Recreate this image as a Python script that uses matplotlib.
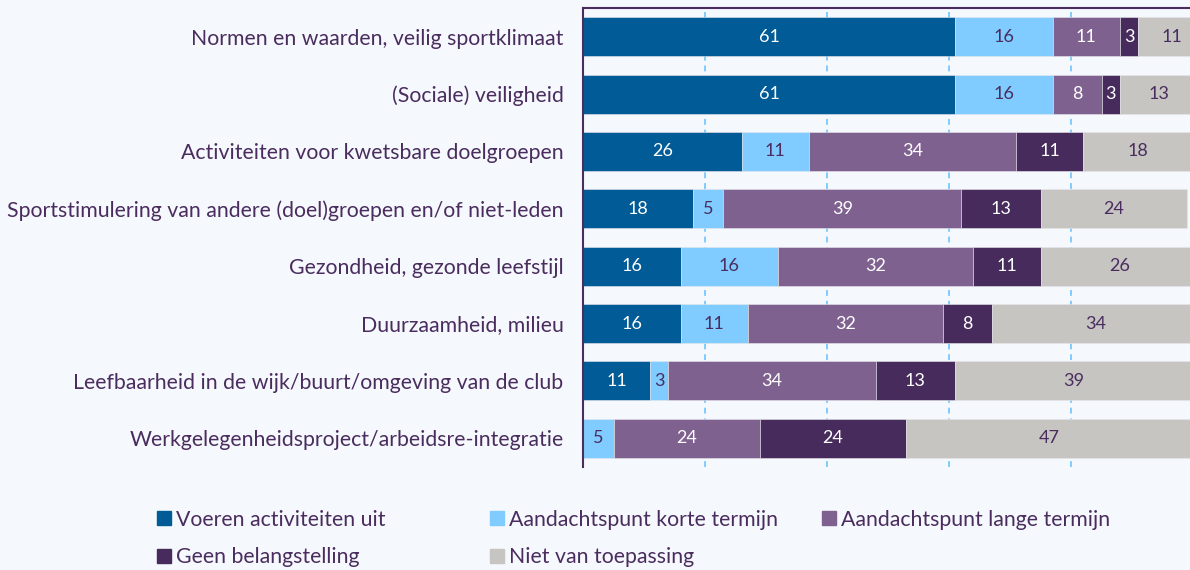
import matplotlib
matplotlib.use("Agg")
import matplotlib.pyplot as plt
from matplotlib.lines import Line2D

plt.rcParams["font.family"] = ["Lato", "DejaVu Sans"]

categorieen = [
    "Normen en waarden, veilig sportklimaat",
    "(Sociale) veiligheid",
    "Activiteiten voor kwetsbare doelgroepen",
    "Sportstimulering van andere (doel)groepen en/of niet-leden",
    "Gezondheid, gezonde leefstijl",
    "Duurzaamheid, milieu",
    "Leefbaarheid in de wijk/buurt/omgeving van de club",
    "Werkgelegenheidsproject/arbeidsre-integratie",
]
reeksen = [
    "Voeren activiteiten uit",
    "Aandachtspunt korte termijn",
    "Aandachtspunt lange termijn",
    "Geen belangstelling",
    "Niet van toepassing",
]
voeren = [61, 61, 26, 18, 16, 16, 11, 0]
korte = [16, 16, 11, 5, 16, 11, 3, 5]
lange = [11, 8, 34, 39, 32, 32, 34, 24]
geen = [3, 3, 11, 13, 11, 8, 13, 24]
niet_vt = [11, 13, 18, 24, 26, 34, 39, 47]
waarden = [voeren, korte, lange, geen, niet_vt]

kleuren = ["#005b96", "#80cbff", "#7f6190", "#472b5d", "#c6c5c2"]
tekstkleur = ["white", "#4a2d5e", "white", "white", "#4a2d5e"]
paars = "#4a2d5e"
achtergrond = "#f5f8fd"

fig = plt.figure(figsize=(11.9, 5.7), dpi=100, facecolor=achtergrond)
ax = fig.add_axes([583 / 1190, 1 - 467 / 570, 610 / 1190, 459 / 570])
ax.set_facecolor(achtergrond)

y = list(range(len(categorieen)))
links = [0] * len(categorieen)
for naam, vals, kl, tk in zip(reeksen, waarden, kleuren, tekstkleur):
    balken = ax.barh(y, vals, left=links, height=0.68, color=kl,
                     edgecolor="#e6e6ea", linewidth=0.4, label=naam, zorder=2)
    for b, v in zip(balken, vals):
        if v > 0:
            ax.text(b.get_x() + b.get_width() / 2, b.get_y() + b.get_height() / 2,
                    str(v), ha="center", va="center", color=tk, fontsize=13, zorder=3)
    links = [l + v for l, v in zip(links, vals)]

ax.set_xlim(0, 100)
ax.set_ylim(len(categorieen) - 0.5, -0.5)
ax.set_yticks(y)
ax.set_yticklabels(categorieen, fontsize=15.3, color=paars)
ax.tick_params(axis="y", length=0, pad=14)
ax.set_xticks([20, 40, 60, 80])
ax.tick_params(axis="x", length=0, labelbottom=False)
ax.grid(axis="x", color="#80cbff", linestyle=(0, (3, 2.5)), linewidth=1.4, zorder=0)
ax.set_axisbelow(True)
for kant in ["right", "bottom"]:
    ax.spines[kant].set_visible(False)
for kant in ["left", "top"]:
    ax.spines[kant].set_color(paars)
    ax.spines[kant].set_linewidth(1.5)

# legenda in drie kolommen, rij voor rij zoals in het origineel
kolommen = [[0, 3], [1, 4], [2]]
kol_x = [146 / 1190, 479 / 1190, 811 / 1190]
for idx, xpos in zip(kolommen, kol_x):
    handles = [Line2D([], [], marker="s", linestyle="none", markersize=9.5,
                      color=kleuren[i]) for i in idx]
    leg = fig.legend(handles, [reeksen[i] for i in idx], loc="upper left",
                     bbox_to_anchor=(xpos, 1 - 499 / 570), frameon=False,
                     fontsize=15.3, handlelength=0.7, handletextpad=0.2,
                     labelspacing=0.83, borderpad=0)
    for t in leg.get_texts():
        t.set_color(paars)

fig.savefig("out.png", dpi=100, facecolor=achtergrond)
